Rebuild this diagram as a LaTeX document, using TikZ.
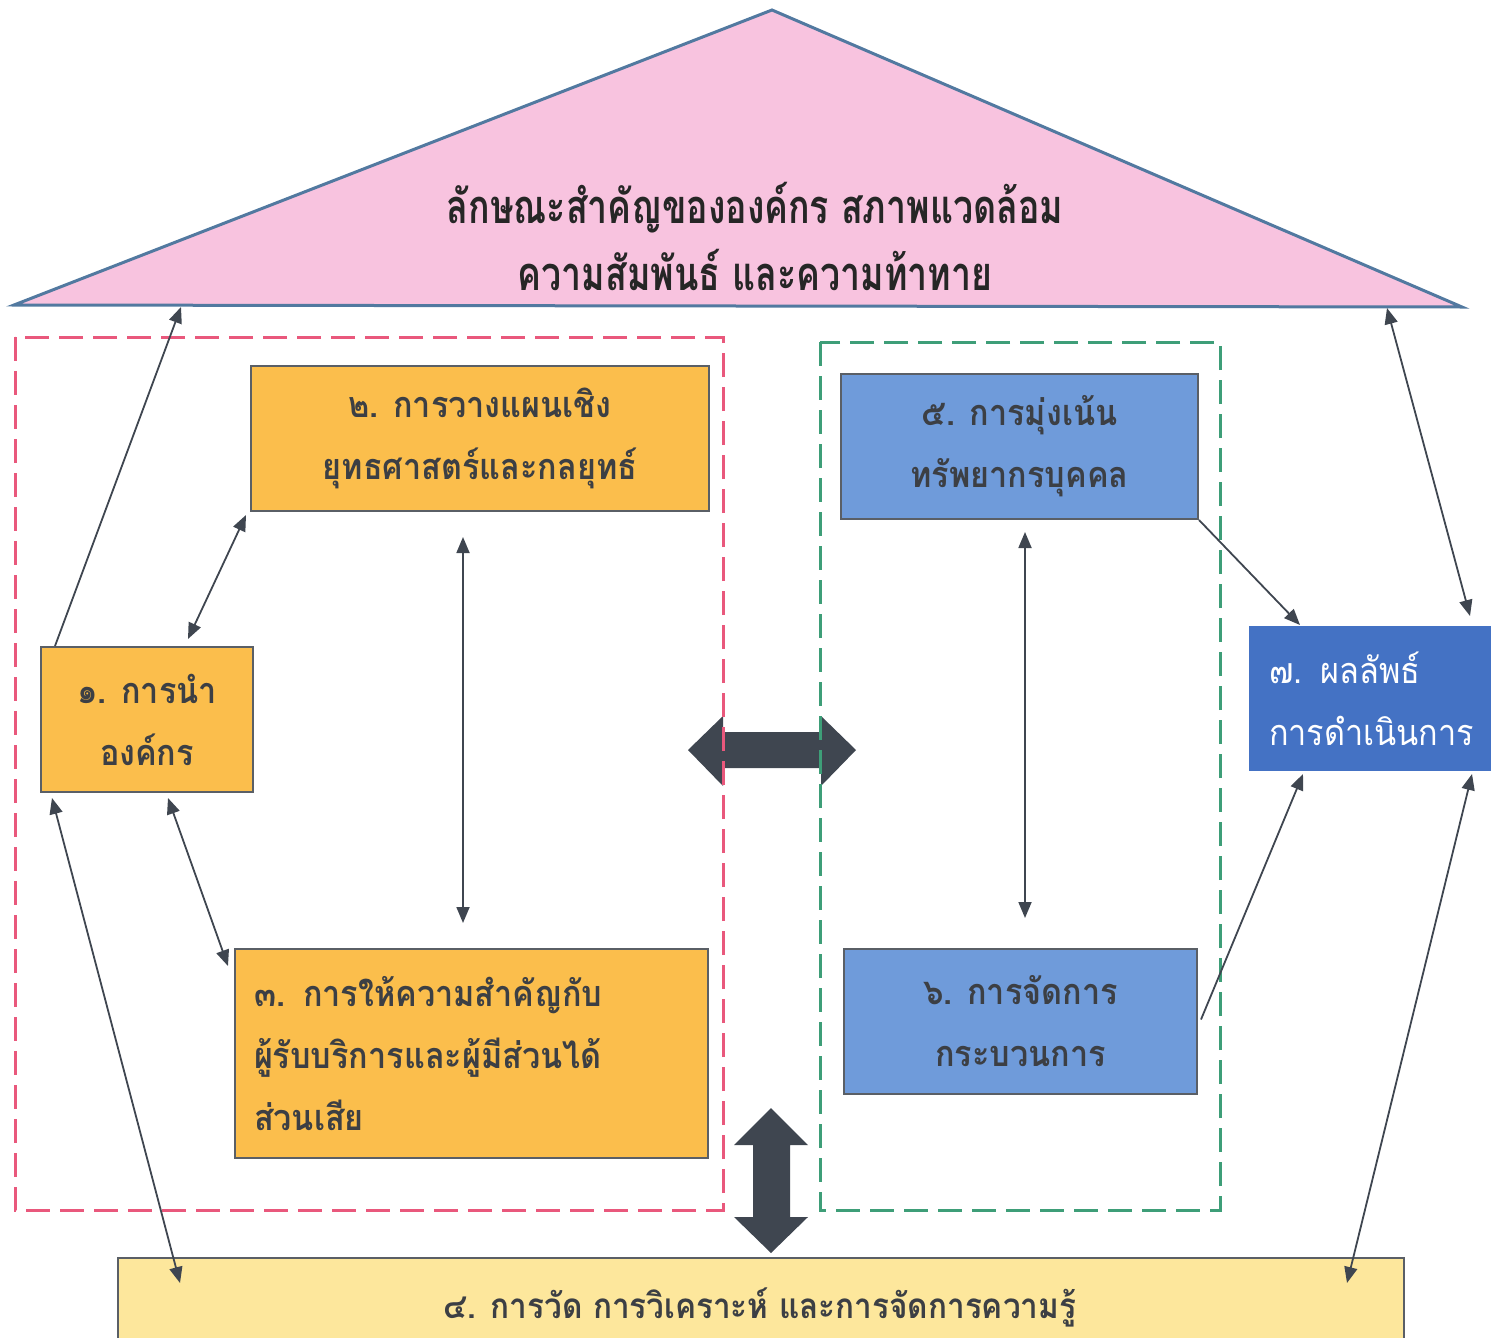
\documentclass[tikz,border=0pt]{standalone}
\usepackage{fontspec}
\usetikzlibrary{arrows.meta,calc}
\newfontfamily\thaifont[Script=Thai,FakeStretch=0.9]{Loma}
\newfontfamily\thaititle[Script=Thai,FakeStretch=0.76]{Loma}
\definecolor{roofpink}{HTML}{F8C3DF}
\definecolor{roofline}{HTML}{5279A0}
\definecolor{orangebox}{HTML}{FBBE4C}
\definecolor{bluebox}{HTML}{6F9BDA}
\definecolor{darkblue}{HTML}{4472C4}
\definecolor{yellowbox}{HTML}{FDE79C}
\definecolor{boxline}{HTML}{5A5F66}
\definecolor{txtgray}{HTML}{3C3F44}
\definecolor{arrowgray}{HTML}{3F4650}
\definecolor{redframe}{HTML}{E9587C}
\definecolor{greenframe}{HTML}{3E9E78}
\begin{document}
\begin{tikzpicture}[x=1pt,y=-1pt,
  box/.style={draw=boxline,line width=2pt,inner sep=0pt,anchor=north west,
    text=txtgray,align=center,font=\thaifont\bfseries\fontsize{36}{62}\selectfont},
  link/.style={draw=arrowgray,line width=1.8pt},
  dbl/.style={link,{Triangle[length=16pt,width=13pt]}-{Triangle[length=16pt,width=13pt]}},
  sgl/.style={link,-{Triangle[length=16pt,width=13pt]}},
  frame/.style={line width=3pt,dash pattern=on 24pt off 10pt},
  bigarrow/.style={fill=arrowgray,draw=none}]
\useasboundingbox (0,0) rectangle (1491,1338);
\clip (0,0) rectangle (1491,1338);
% roof
\draw[fill=roofpink,draw=roofline,line width=3pt,line join=miter]
  (14,305) -- (772,10) -- (1462,307) -- cycle;
\coordinate (r1) at (181,307);
\coordinate (r2) at (1387,308);
\node[text=black!85,align=center,font=\thaititle\bfseries\fontsize{47}{67}\selectfont]
  (title) at (755,236) {ลักษณะสำคัญขององค์กร สภาพแวดล้อม\\ความสัมพันธ์ และความท้าทาย};
% big arrows
\draw[bigarrow] (688,750) -- (723,716) -- (723,732) -- (821,732) -- (821,716) -- (856,750)
  -- (821,786) -- (821,768) -- (723,768) -- (723,786) -- cycle;
\draw[bigarrow] (771,1108) -- (808,1145) -- (790,1145) -- (790,1217) -- (808,1217) -- (771,1253)
  -- (734,1217) -- (753,1217) -- (753,1145) -- (734,1145) -- cycle;
% frames
\draw[frame,draw=redframe] (15,337) rectangle (723,1210);
\draw[frame,draw=greenframe] (820,342) rectangle (1220,1210);
% boxes
\node[box,fill=orangebox,minimum width=458pt,minimum height=145pt] (b2) at (250,365)
  {๒. การวางแผนเชิง\\ยุทธศาสตร์และกลยุทธ์};
\node[box,fill=orangebox,minimum width=212pt,minimum height=145pt] (b1) at (40,646)
  {๑. การนำ\\องค์กร};
\node[box,fill=orangebox,minimum height=209pt,text width=435pt,inner xsep=19pt,align=left] (b3) at (234,948)
  {๓. การให้ความสำคัญกับ\\ผู้รับบริการและผู้มีส่วนได้\\ส่วนเสีย};
\node[box,fill=bluebox,minimum width=357pt,minimum height=145pt] (b5) at (840,373)
  {๕. การมุ่งเน้น\\ทรัพยากรบุคคล};
\node[box,fill=bluebox,minimum width=353pt,minimum height=145pt] (b6) at (843,948)
  {๖. การจัดการ\\กระบวนการ};
\node[box,fill=darkblue,draw=none,minimum height=145pt,text width=210pt,inner xsep=20pt,align=left,
  text=white,font=\thaifont\fontsize{36}{62}\selectfont] (b7) at (1248,625)
  {๗. ผลลัพธ์\\การดำเนินการ};
\node[box,fill=yellowbox,minimum width=1286pt,minimum height=95pt] (b4) at (117,1257) {};
\node[text=txtgray,font=\thaifont\bfseries\fontsize{35}{62}\selectfont,anchor=base] (b4t) at (760,1318)
  {๔. การวัด การวิเคราะห์ และการจัดการความรู้};
% connectors
\draw[sgl] ($(b1.north west)+(15,0)$) -- (r1);
\draw[dbl] ($(b1.north west)+(148,-7)$) -- ($(b2.south west)+(-4,3)$);
\draw[dbl] ($(b2.south west)+(213,25)$) -- ($(b3.north west)+(229,-25)$);
\draw[dbl] ($(b1.south west)+(128,5)$) -- ($(b3.north west)+(-6,18)$);
\draw[dbl] ($(b1.south west)+(12,5)$) -- ($(b4.north west)+(63,26)$);
\draw[dbl] ($(b5.south west)+(185,12)$) -- ($(b6.north west)+(182,-30)$);
\draw[sgl] (b5.south east) -- ($(b7.north west)+(52,0)$);
\draw[sgl] ($(b6.east)+(3,-2)$) -- ($(b7.south west)+(55,2)$);
\draw[dbl] (r2) -- ($(b7.north west)+(222,-9)$);
\draw[dbl] ($(b7.south west)+(224,2)$) -- ($(b4.north west)+(1230,26)$);
\end{tikzpicture}
\end{document}
